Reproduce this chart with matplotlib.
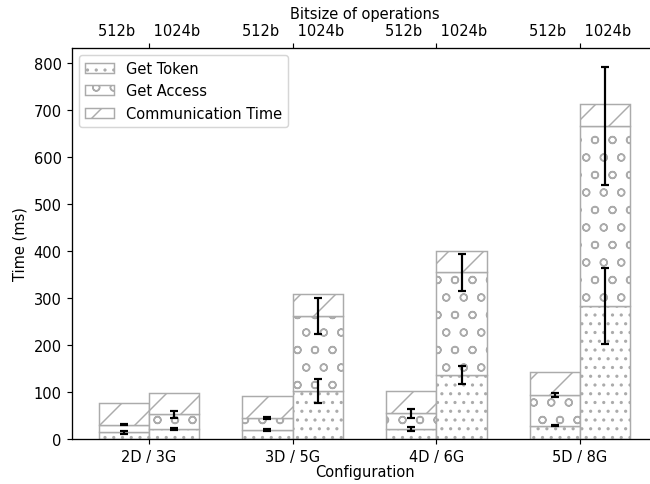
import numpy as np
import matplotlib
matplotlib.use("Agg")
import matplotlib.pyplot as plt

# ── Data (ms) ──────────────────────────────────────────────────────────────────

configs = ["2D / 3G", "3D / 5G", "4D / 6G", "5D / 8G"]
bitsizes = ["512b", "1024b"]

token_512 = [14, 19, 21, 28]
access_512 = [16, 26, 34, 66]
comm_512 = [47, 46, 48, 48]
token_512_err = [3, 2, 4.5, 1]
access_512_err = [1, 2, 9.5, 3.5]

token_1024 = [21, 102, 137, 283]
access_1024 = [32, 160, 218, 384]
comm_1024 = [46, 47, 46, 47]
token_1024_err = [2, 26, 19, 81]
access_1024_err = [7.5, 39, 39.5, 126]

# ── Plot ───────────────────────────────────────────────────────────────────────

W = 0.35
EDGE = "#ababab"
DPI = 105
x = np.arange(len(configs))

fig = plt.figure(figsize=(650 / DPI, 485 / DPI), dpi=DPI)
ax = fig.add_axes([72 / 650, 45 / 485, 585 / 650, 391 / 485])


def stacked(pos, token, access, comm, token_err, access_err, with_label):
    token = np.array(token)
    access = np.array(access)
    comm = np.array(comm)
    ax.bar(pos, token, W, color="white", edgecolor=EDGE, hatch="..",
           label="Get Token" if with_label else None)
    ax.bar(pos, access, W, bottom=token, color="white", edgecolor=EDGE, hatch="o",
           label="Get Access" if with_label else None)
    ax.bar(pos, comm, W, bottom=token + access, color="white", edgecolor=EDGE, hatch="/",
           label="Communication Time" if with_label else None)
    # error bars sit on the cumulative tops of token and access
    ax.errorbar(pos, token, yerr=token_err, fmt="none", ecolor="black",
                elinewidth=1.5, capsize=3, capthick=1.5, zorder=5)
    ax.errorbar(pos, token + access, yerr=access_err, fmt="none", ecolor="black",
                elinewidth=1.5, capsize=3, capthick=1.5, zorder=5)


stacked(x - W / 2, token_512, access_512, comm_512, token_512_err, access_512_err, True)
stacked(x + W / 2, token_1024, access_1024, comm_1024, token_1024_err, access_1024_err, False)

ax.set_xlim(-0.535, 3.535)
ax.set_xticks(x)
ax.set_xticklabels(configs)
ax.set_xlabel("Configuration", labelpad=0)
ax.set_ylabel("Time (ms)")
ax.legend(loc="upper left")

top = ax.twiny()
top.set_xlim(ax.get_xlim())
top.set_xticks(x)
top.set_xticklabels([f"{bitsizes[0]}    {bitsizes[1]}" for _ in x])
top.set_xlabel("Bitsize of operations", labelpad=3)

# right edge runs past the canvas
for a in (ax, top):
    a.spines["right"].set_visible(False)

plt.savefig("out.png", dpi=DPI)
plt.close()
